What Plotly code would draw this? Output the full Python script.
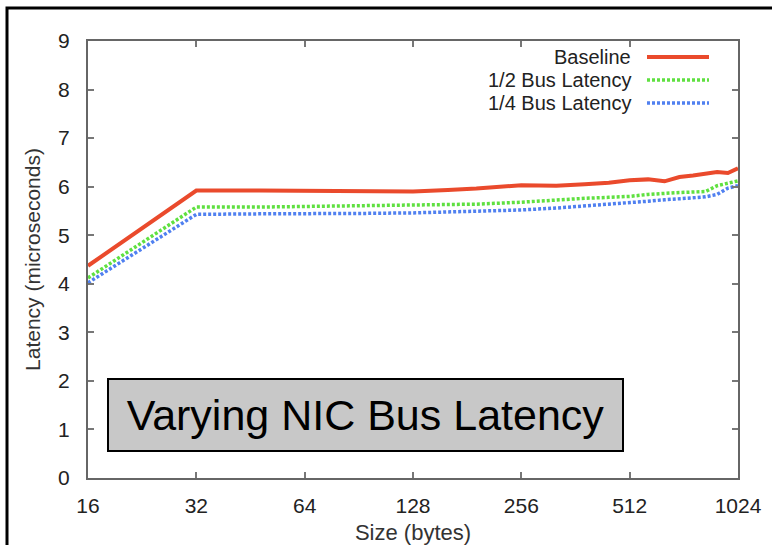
import plotly.graph_objects as go
import math

sizes = [16, 32, 48, 64, 96, 128, 160, 192, 256, 320, 384, 448, 512, 576, 640, 704, 768, 832, 896, 960, 1024]
baseline = [4.37, 5.92, 5.92, 5.91, 5.90, 5.90, 5.93, 5.96, 6.03, 6.02, 6.05, 6.08, 6.13, 6.15, 6.11, 6.20, 6.23, 6.26, 6.30, 6.28, 6.38]
half_bus = [4.12, 5.58, 5.58, 5.59, 5.60, 5.61, 5.63, 5.64, 5.68, 5.73, 5.76, 5.78, 5.80, 5.84, 5.87, 5.88, 5.89, 5.90, 6.02, 6.07, 6.12]
quarter_bus = [4.02, 5.43, 5.44, 5.44, 5.45, 5.46, 5.48, 5.50, 5.52, 5.56, 5.60, 5.63, 5.66, 5.70, 5.73, 5.76, 5.77, 5.79, 5.84, 5.97, 6.02]

series_names = ["Baseline", "1/2 Bus Latency", "1/4 Bus Latency"]
series_vals = [baseline, half_bus, quarter_bus]
series_colors = ["#ea4a2c", "#5fe040", "#5080f0"]
series_dash = ["solid", "3px,2px", "3px,2px"]
series_width = [4, 3.5, 3.5]

x_ticks = [16, 32, 64, 128, 256, 512, 1024]
y_ticks = [0, 1, 2, 3, 4, 5, 6, 7, 8, 9]
x_title = "Size (bytes)"
y_title = "Latency (microseconds)"
box_text = "Varying NIC Bus Latency"

FONT = "Liberation Sans, Arial, sans-serif"

fig = go.Figure()
for name, vals, col, dash, w in zip(series_names, series_vals, series_colors, series_dash, series_width):
    fig.add_trace(go.Scatter(x=sizes, y=vals, mode="lines", name=name,
                             line=dict(color=col, width=w, dash=dash), showlegend=False))

W, H = 772, 545
L, R, T, B = 88, 34, 41, 67
pw, ph = W - L - R, H - T - B

def px(xp):
    return (xp - L) / pw

def py(yp):
    return (H - B - yp) / ph

shapes = []
annotations = []
# manual gnuplot-style legend
leg_rows = [57, 80, 103]
for name, col, dash, w, yr in zip(series_names, series_colors, series_dash, series_width, leg_rows):
    annotations.append(dict(xref="paper", yref="paper", x=px(633), y=py(yr), text=name,
                            showarrow=False, xanchor="right", yanchor="middle",
                            font=dict(family=FONT, size=20, color="#222")))
    shapes.append(dict(type="line", xref="paper", yref="paper", x0=px(647), x1=px(709),
                       y0=py(yr), y1=py(yr), line=dict(color=col, width=w, dash=dash)))

# gray text box
annotations.append(dict(xref="paper", yref="paper", x=px(365.5), y=py(415), text=box_text,
                        showarrow=False, xanchor="center", yanchor="middle",
                        font=dict(family=FONT, size=43, color="#000"),
                        bgcolor="#c8c8c8", bordercolor="#000", borderwidth=2, borderpad=0,
                        width=513, height=70))

# outer frame (cropped)
shapes.append(dict(type="rect", xref="paper", yref="paper", x0=px(7), x1=px(790),
                   y0=py(600), y1=py(8), line=dict(color="#000", width=3), layer="above"))

fig.update_layout(
    width=W, height=H,
    margin=dict(l=L, r=R, t=T, b=B, pad=0),
    paper_bgcolor="white", plot_bgcolor="white",
    font=dict(family=FONT, size=21, color="#222"),
    shapes=shapes, annotations=annotations,
    xaxis=dict(type="log", range=[math.log10(16), math.log10(1024)],
               tickvals=x_ticks, ticktext=[str(v) for v in x_ticks],
               ticks="inside", ticklen=6, tickcolor="#777", tickwidth=1.5,
               showline=True, linecolor="#666", linewidth=2, mirror="allticks",
               showgrid=False, zeroline=False, ticklabelstandoff=8, automargin=False,
               tickfont=dict(family=FONT, size=21, color="#222"),
               title=dict(text=x_title, standoff=16, font=dict(family=FONT, size=22, color="#333"))),
    yaxis=dict(range=[0, 9], tickvals=y_ticks,
               ticks="inside", ticklen=6, tickcolor="#777", tickwidth=1.5,
               showline=True, linecolor="#666", linewidth=2, mirror="allticks",
               showgrid=False, zeroline=False, ticklabelstandoff=12, automargin=False,
               tickfont=dict(family=FONT, size=21, color="#222"),
               title=dict(text=y_title, standoff=12, font=dict(family=FONT, size=21, color="#333"))),
)

fig.write_html("out.html")
